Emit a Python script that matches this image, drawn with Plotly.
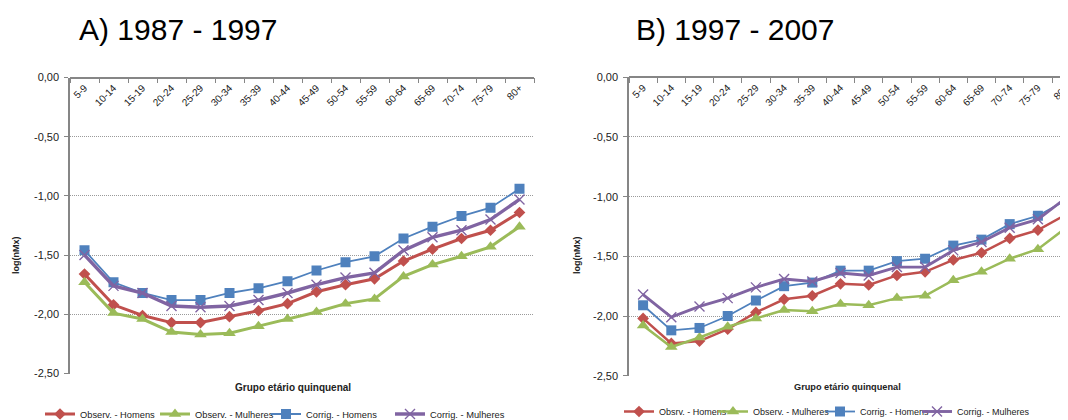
import plotly.graph_objects as go

# ---------------- data ----------------
ages = ["5-9", "10-14", "15-19", "20-24", "25-29", "30-34", "35-39", "40-44",
        "45-49", "50-54", "55-59", "60-64", "65-69", "70-74", "75-79", "80+"]

# Panel A) 1987 - 1997
obs_h_A = [-1.66, -1.92, -2.01, -2.07, -2.07, -2.02, -1.97, -1.91,
           -1.81, -1.75, -1.70, -1.55, -1.45, -1.36, -1.29, -1.14]
obs_m_A = [-1.73, -1.99, -2.04, -2.15, -2.17, -2.16, -2.10, -2.04,
           -1.98, -1.91, -1.87, -1.68, -1.58, -1.51, -1.43, -1.26]
cor_h_A = [-1.46, -1.73, -1.82, -1.88, -1.88, -1.82, -1.78, -1.72,
           -1.63, -1.56, -1.51, -1.36, -1.26, -1.17, -1.10, -0.94]
cor_m_A = [-1.50, -1.76, -1.82, -1.93, -1.94, -1.93, -1.88, -1.82,
           -1.75, -1.69, -1.65, -1.46, -1.35, -1.29, -1.20, -1.03]

# Panel B) 1997 - 2007
obs_h_B = [-2.02, -2.23, -2.21, -2.11, -1.97, -1.86, -1.83, -1.73,
           -1.74, -1.66, -1.63, -1.53, -1.47, -1.35, -1.28, -1.15]
obs_m_B = [-2.08, -2.26, -2.18, -2.09, -2.02, -1.95, -1.96, -1.90,
           -1.91, -1.85, -1.83, -1.70, -1.63, -1.52, -1.44, -1.26]
cor_h_B = [-1.91, -2.12, -2.10, -2.00, -1.87, -1.75, -1.72, -1.62,
           -1.62, -1.54, -1.52, -1.41, -1.36, -1.23, -1.16, -1.03]
cor_m_B = [-1.82, -2.01, -1.92, -1.85, -1.76, -1.69, -1.71, -1.64,
           -1.66, -1.59, -1.59, -1.45, -1.38, -1.26, -1.19, -1.01]

names_A = ["Observ. - Homens", "Observ. - Mulheres", "Corrig. - Homens", "Corrig. - Mulheres"]
names_B = ["Obsrv. - Homens", "Observ. - Mulheres", "Corrig. - Homens", "Corrig. - Mulheres"]

y_tick_vals = [0, -0.5, -1.0, -1.5, -2.0, -2.5]
y_tick_text = ["0,00", "-0,50", "-1,00", "-1,50", "-2,00", "-2,50"]

titles = ["A) 1987 - 1997", "B) 1997 - 2007"]
y_title = "log(nMx)"
x_title = "Grupo etário quinquenal"

# ---------------- layout helpers ----------------
# The page body has an 8px margin, so the figure is 8px smaller and all
# page-pixel positions are shifted by that offset.
PAGE_OFF = 8
W, H = 1068 - PAGE_OFF, 420 - PAGE_OFF
FONT = "Liberation Sans, Arial, sans-serif"

RED, GREEN, BLUE, PURPLE = "#C0504D", "#9BBB59", "#4F81BD", "#8064A2"


def px(x):
    return (x - PAGE_OFF) / W


def py(y):
    return 1 - (y - PAGE_OFF) / H


styles = [
    dict(color=RED, lw=3.0, sym="diamond", size=9, mline=dict(width=0)),
    dict(color=GREEN, lw=3.0, sym="triangle-up", size=11, mline=dict(width=0)),
    dict(color=BLUE, lw=1.8, sym="square", size=10, mline=dict(width=0)),
    dict(color=PURPLE, lw=3.4, sym="x-thin", size=10, mline=dict(width=1.4, color=PURPLE)),
]
stylesB = [dict(s, lw=(s["lw"] - 0.5) if s["lw"] > 2 else s["lw"]) for s in styles]

fig = go.Figure()

seriesA = [obs_h_A, obs_m_A, cor_h_A, cor_m_A]
seriesB = [obs_h_B, obs_m_B, cor_h_B, cor_m_B]

legend_ids = []
for i, (vals, name) in enumerate(zip(seriesA, names_A)):
    st = styles[i]
    lid = f"legend{i + 2}"
    legend_ids.append(lid)
    fig.add_trace(go.Scatter(
        x=ages, y=vals, name=name, mode="lines+markers",
        line=dict(color=st["color"], width=st["lw"]),
        marker=dict(symbol=st["sym"], size=st["size"], color=st["color"], line=st["mline"]),
        xaxis="x", yaxis="y", legend=lid,
    ))
for i, (vals, name) in enumerate(zip(seriesB, names_B)):
    st = stylesB[i]
    lid = f"legend{i + 6}"
    legend_ids.append(lid)
    fig.add_trace(go.Scatter(
        x=ages, y=vals, name=name, mode="lines+markers",
        line=dict(color=st["color"], width=st["lw"]),
        marker=dict(symbol=st["sym"], size=st["size"], color=st["color"], line=st["mline"]),
        xaxis="x2", yaxis="y2", legend=lid, cliponaxis=False,
    ))

# plot areas (page pixels)
A_left, A_right, A_top, A_bot = 70, 534, 77.5, 373.5
B_left, B_right, B_top, B_bot = 629, 1068, 77.3, 375.7
B_step = 28.2
B_range_max = (B_right - B_left) / B_step - 0.5

axis_line = "#868686"
grid_col = "#9A9A9A"


def xaxis_def(left, right, top, rng):
    return dict(
        domain=[px(left), px(right)], anchor="free", position=py(top), side="bottom",
        type="category", categoryorder="array", categoryarray=ages,
        range=rng, tickson="boundaries", ticks="outside", ticklen=5,
        tickcolor=axis_line, tickwidth=1, showline=True, linecolor=axis_line, linewidth=1.5,
        tickangle=-45, tickfont=dict(family=FONT, size=10, color="#222"),
        showgrid=False, zeroline=False, fixedrange=True, automargin=False,
    )


def yaxis_def(bot, top, anchor):
    return dict(
        domain=[py(bot), py(top)], anchor=anchor, range=[-2.5, 0],
        tickvals=y_tick_vals, ticktext=y_tick_text,
        showgrid=True, gridcolor=grid_col, griddash="1px,1px", gridwidth=1,
        showline=True, linecolor=axis_line, linewidth=1.5,
        ticks="outside", ticklen=4, tickcolor=axis_line, ticklabelstandoff=3,
        tickfont=dict(family=FONT, size=11, color="#222"),
        zeroline=False, fixedrange=True, automargin=False,
    )


layout = dict(
    width=W, height=H, margin=dict(l=0, r=0, t=0, b=0, autoexpand=False),
    paper_bgcolor="white", plot_bgcolor="white",
    font=dict(family=FONT, color="#222"),
    showlegend=True,
    xaxis=xaxis_def(A_left, A_right, A_top, [-0.5, 15.5]),
    yaxis=yaxis_def(A_bot, A_top, "x"),
    xaxis2=xaxis_def(B_left, B_right, B_top, [-0.5, B_range_max]),
    yaxis2=yaxis_def(B_bot, B_top, "x2"),
)

# legends: one per series, placed to match the reference
leg_text_x = [80, 195, 306, 430, 659, 753, 860, 957]
leg_y = [414] * 4 + [411.5] * 4
leg_size = [9.3] * 4 + [9] * 4
for lid, tx, ty, fs in zip(legend_ids, leg_text_x, leg_y, leg_size):
    layout[lid] = dict(
        x=px(tx - 40), y=py(ty), xanchor="left", yanchor="middle",
        orientation="h", itemwidth=30, bgcolor="rgba(0,0,0,0)", borderwidth=0,
        font=dict(family=FONT, size=fs, color="#222"),
        tracegroupgap=0, itemclick=False, itemdoubleclick=False,
    )

fig.update_layout(**layout)

annotations = [
    dict(text=titles[0], x=px(77), y=py(30), xanchor="left", yanchor="middle",
         font=dict(family=FONT, size=30, color="black")),
    dict(text=titles[1], x=px(634), y=py(30), xanchor="left", yanchor="middle",
         font=dict(family=FONT, size=30, color="black")),
    dict(text="<b>" + y_title + "</b>", x=px(16), y=py(255), textangle=-90,
         xanchor="center", yanchor="middle", font=dict(family=FONT, size=9, color="#222")),
    dict(text="<b>" + y_title + "</b>", x=px(577), y=py(255), textangle=-90,
         xanchor="center", yanchor="middle", font=dict(family=FONT, size=9, color="#222")),
    dict(text="<b>" + x_title + "</b>", x=px(293), y=py(387), xanchor="center", yanchor="middle",
         font=dict(family=FONT, size=10, color="#222")),
    dict(text="<b>" + x_title + "</b>", x=px(847), y=py(387), xanchor="center", yanchor="middle",
         font=dict(family=FONT, size=9.2, color="#222")),
]
for a in annotations:
    a.update(xref="paper", yref="paper", showarrow=False)
fig.update_layout(annotations=annotations)

fig.write_html("out.html", config={"displayModeBar": False})
